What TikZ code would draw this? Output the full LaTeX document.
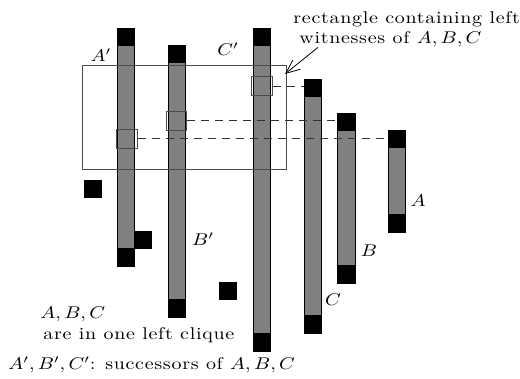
\documentclass[tikz,border=0pt]{standalone}
\usepackage{fontspec}
\setmainfont{Latin Modern Roman}[LetterSpace=3.5]
\usepackage{tikz}
\usetikzlibrary{arrows.meta, positioning}
\tikzset{
  strip/.style={rectangle, draw=black, fill=black!50, minimum width=8.75pt, inner sep=0pt},
  endcap/.style={rectangle, fill=black, minimum width=8.75pt, minimum height=9pt, inner sep=0pt},
  witness/.style={rectangle, draw=black!70, minimum width=10.25pt, minimum height=9.75pt, inner sep=0pt},
  loner/.style={rectangle, fill=black, minimum size=9pt, inner sep=0pt},
  txt/.style={inner sep=0pt, yscale=0.85, transform shape},
  link/.style={draw=black!80, dash pattern=on 4pt off 3pt},
  arrow/.style={-{Straight Barb[length=7pt,width=6pt]}}
}
\begin{document}
\begin{tikzpicture}[x=0.5pt, y=-0.5pt]
  \useasboundingbox (0,0) rectangle (520,379);

  % intervals A', B', C' and C, B, A
  \node (ap) [strip, minimum height=119pt] at (126,147) {};
  \node (bp) [strip, minimum height=136pt] at (177,181) {};
  \node (cp) [strip, minimum height=161.5pt] at (262,189.5) {};
  \node (c) [strip, minimum height=127pt] at (313,206) {};
  \node (b) [strip, minimum height=85pt] at (346.5,198) {};
  \node (a) [strip, minimum height=51pt] at (397,181) {};
  \foreach \s in {ap,bp,cp,c,b,a} {
    \node (\s-top) [endcap, anchor=north] at (\s.north) {};
    \node (\s-bot) [endcap, anchor=south] at (\s.south) {};
  }

  % single points
  \node (p1) [loner] at (92.5,189.5) {};
  \node (p2) [loner] at (143.3,240) {};
  \node (p3) [loner] at (228,291) {};

  % left witnesses
  \node (region) [draw=black!70, minimum width=102.2pt, minimum height=52pt, inner sep=0pt] at (184.5,117.3) {};
  \node (wc) [witness] at (262,86) {};
  \node (wb) [witness] at (176.5,120.7) {};
  \node (wa) [witness] at (127,138.7) {};
  \draw [link] (wc.east) -- (wc.east -| c.west);
  \draw [link] (wb.east) -- (wb.east -| b.west);
  \draw [link] (wa.east) -- (wa.east -| a.west);

  \node (lap) [txt] at (101,55) {$A'$};
  \node (lcp) [txt] at (228,49) {$C'$};
  \node (lbp) [txt] at (203,239) {$B'$};
  \node (la) [txt] at (418,201) {$A$};
  \node (lb) [txt] at (369,251) {$B$};
  \node (lc) [txt] at (333,300) {$C$};

  \node (note) [txt, align=left, anchor=north west] at (293,11) {rectangle containing left\\\hspace*{3pt}witnesses of $A,B,C$};
  \coordinate (tip) at (285,74);
  \draw [arrow] ([xshift=12.5pt]note.south west) -- (tip);

  \node (clique) [txt, align=left, anchor=north west] at (40,307) {$A,B,C$\\\hspace*{1.5pt}are in one left clique};
  \node (succ) [txt, anchor=base west] at (8,370) {$A',B',C'$: successors of $A,B,C$};
\end{tikzpicture}
\end{document}
